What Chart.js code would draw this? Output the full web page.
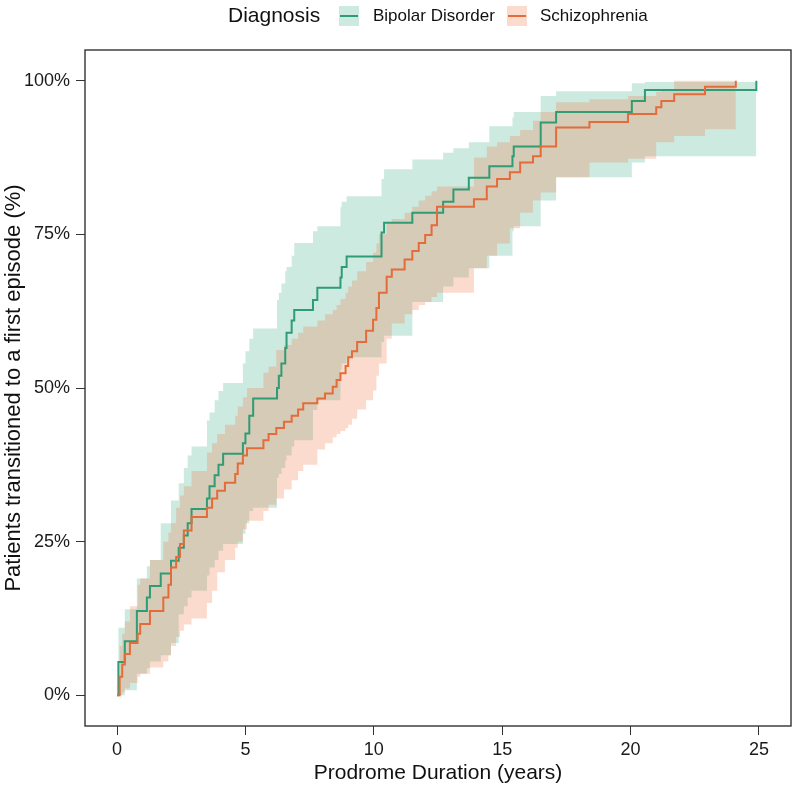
<!DOCTYPE html>
<html><head><meta charset="utf-8">
<script src="https://cdn.jsdelivr.net/npm/chart.js@4/dist/chart.umd.min.js"></script>
<style>html,body{margin:0;padding:0;background:#fff}canvas{display:block}</style>
</head><body>
<canvas id="c" width="796" height="788"></canvas>
<script>
// ---- data (years, % transitioned) ----
const bipolarTimes = [0,0.05,0.3,0.77,1.16,1.28,1.7,2.1,2.4,2.6,2.75,2.9,3.5,3.6,3.8,3.95,4.13,4.9,5.0,5.15,5.3,6.23,6.3,6.4,6.55,6.6,6.8,6.9,7.63,7.8,8.7,8.75,8.94,10.3,10.4,11.5,12.7,13.1,13.7,14.5,15.4,15.45,16.5,17.1,20.05,20.56,24.9];
const bipolarEst   = [0,5.4,8.8,13.7,15.9,17.8,19.8,21.9,24,26,28,30.3,32,34,35.8,37.5,39.3,41,42.6,45.5,48.3,50,52,54,56.5,59,61,62.7,64.3,66.3,68,69.7,71.4,75.3,76.9,78.5,80.3,82.3,84.2,86.1,87.7,89.3,93.2,94.9,96.7,98.5,100];
const bipolarUpper = [0,11,14,19,21,22,28,31.7,34.5,37,39,40.5,44.7,46,48,49.5,50.8,54,56,58,59.7,64.3,65.5,67,69,69.7,71.5,73.6,75.5,76.3,79.5,80.3,81.2,84,85.6,87.2,88.3,89,90,92.6,94,94.9,97.5,98.3,99.6,99.8,100];
const bipolarLower = [0,0,0.8,3.5,4.4,5.5,6.5,8.5,13.2,14.5,15.9,17,19.5,20.8,22,23.5,24.6,26.3,28,30,30.5,35.4,36,37,38.2,39,40.5,41.5,46.4,48,53,54,55,57.5,58.5,64,66.5,68,69.5,71.5,75.5,76.3,80.5,84.3,86.7,87.7,87.7];

const schizoTimes = [0,0.1,0.2,0.3,0.5,0.8,0.9,1.28,1.8,2.0,2.1,2.3,2.45,2.6,2.9,3.5,3.7,3.9,4.2,4.6,4.7,4.9,5.06,5.7,5.9,6.2,6.5,6.8,7.05,7.25,7.8,8.1,8.4,8.55,8.7,8.9,9.0,9.15,9.35,9.7,9.97,10.1,10.2,10.5,10.7,11.2,11.5,11.75,12.0,12.25,12.46,13.9,14.4,14.8,15.3,15.7,16.2,16.5,17.1,18.4,19.9,21.0,21.2,21.7,22.9,24.1];
const schizoEst   = [0,3,5,6.7,8.5,10,11.6,13.7,15.9,18,20.8,22.5,24.6,26.8,29,30.5,32,33.3,34.6,36,37.7,39,40.2,41.5,42.5,43.5,44.5,45.5,46.5,47.5,48.3,49.1,50.2,51.3,52.4,53.6,55,56,57.5,59.3,61.1,63,65.5,68.1,69.3,70.9,72.3,73.6,74.9,76.5,79.5,80.7,82.8,84,85.1,86.7,87.7,89.3,92.4,93.3,94.6,95.7,96.7,97.8,99,100];
const schizoUpper = [0,8,10,12,14.5,18,19,22,25,26.5,28,30.5,32.5,34,36.5,39.5,41,42.5,44,45.5,47,48.5,50,52.5,53.5,56.2,57,58,59,60,61,62,62.7,63.5,64.5,65.5,66.5,67.5,69,70.5,72,73.5,75,76.8,77.5,78.5,79.5,80.5,81.3,82,82.8,87.5,89.3,90,91,92,93.5,94.9,96.5,97,97.5,98.2,98.5,100,100,100];
const schizoLower = [0,0,0.5,1.1,2,3,3.5,4.5,5.5,6.5,8,9.5,10.5,11.5,12.5,15,17,20,22,24,25,27,28.4,30,31,32,33.5,35,36.5,37.5,40,41,42,42.5,43,43.5,44,45,46.5,48,49.6,52,54,58,60.5,62,62.7,63.5,64,64.8,65.5,69.5,71.5,73.5,76,78.5,80.5,81.8,84.3,86.7,87.3,90,90,91,92.1,92.1];

const seriesNames = ['Bipolar Disorder', 'Schizophrenia'];
const legendTitle = 'Diagnosis';
const xTicks = [0, 5, 10, 15, 20, 25];
const yTicks = [0, 25, 50, 75, 100];
const xTitle = 'Prodrome Duration (years)';
const yTitle = 'Patients transitioned to a first episode (%)';

// ---- styles ----
const FONT = "'Liberation Sans', Arial, sans-serif";
const greenLine = '#2f9c76';
const orangeLine = '#e46c3a';
const greenBand = 'rgba(27,158,119,0.22)';
const orangeBand = 'rgba(240,110,60,0.25)';

const pts = (xs, ys) => xs.map((x, i) => ({x: x, y: ys[i]}));

const bandDs = (label, xs, ys, color, fill, order) => ({
  label, data: pts(xs, ys), stepped: 'before', borderWidth: 0, pointRadius: 0,
  backgroundColor: color, borderColor: 'rgba(0,0,0,0)', fill, order
});

const framePlugin = {
  id: 'frame',
  afterDatasetsDraw(chart) {
    const {ctx, chartArea: a} = chart;
    ctx.save();
    ctx.strokeStyle = '#333';
    ctx.lineWidth = 1.4;
    ctx.strokeRect(a.left, a.top, a.right - a.left, a.bottom - a.top);
    ctx.restore();
  }
};

const legendPlugin = {
  id: 'customLegend',
  afterDraw(chart) {
    const ctx = chart.ctx;
    const cy = 16;
    ctx.save();
    ctx.fillStyle = '#111';
    ctx.textBaseline = 'middle';
    ctx.textAlign = 'left';
    ctx.font = '21px ' + FONT;
    ctx.fillText(legendTitle, 228, cy);
    const items = [
      {x: 339, tx: 373, band: greenBand, line: greenLine, name: seriesNames[0]},
      {x: 507, tx: 540, band: orangeBand, line: orangeLine, name: seriesNames[1]}
    ];
    ctx.font = '17px ' + FONT;
    items.forEach(it => {
      ctx.fillStyle = it.band;
      ctx.fillRect(it.x, cy - 10, 20, 20);
      ctx.strokeStyle = it.line;
      ctx.lineWidth = 2;
      ctx.beginPath();
      ctx.moveTo(it.x + 1, cy);
      ctx.lineTo(it.x + 19, cy);
      ctx.stroke();
      ctx.fillStyle = '#111';
      ctx.fillText(it.name, it.tx, cy);
    });
    ctx.restore();
  }
};

new Chart(document.getElementById('c'), {
  type: 'line',
  data: {
    datasets: [
      {label: seriesNames[0], data: pts(bipolarTimes, bipolarEst), stepped: 'before', borderColor: greenLine, borderWidth: 2, pointRadius: 0, fill: false, order: 2},
      {label: seriesNames[1], data: pts(schizoTimes, schizoEst), stepped: 'before', borderColor: orangeLine, borderWidth: 2, pointRadius: 0, fill: false, order: 1},
      bandDs('bipolar upper', bipolarTimes, bipolarUpper, greenBand, '+1', 4),
      bandDs('bipolar lower', bipolarTimes, bipolarLower, 'rgba(0,0,0,0)', false, 4),
      bandDs('schizo upper', schizoTimes, schizoUpper, orangeBand, '+1', 3),
      bandDs('schizo lower', schizoTimes, schizoLower, 'rgba(0,0,0,0)', false, 3)
    ]
  },
  options: {
    responsive: false,
    animation: false,
    devicePixelRatio: 1,
    layout: {padding: {left: 0, right: 5, top: 50, bottom: 0}},
    plugins: {legend: {display: false}, tooltip: {enabled: false}},
    scales: {
      x: {
        type: 'linear', min: -1.25, max: 26.25,
        afterBuildTicks: s => { s.ticks = xTicks.map(v => ({value: v})); },
        afterFit: s => { s.height = 62; },
        grid: {drawOnChartArea: false, drawTicks: true, tickLength: 9, color: '#333', lineWidth: 1},
        border: {display: false},
        ticks: {font: {family: FONT, size: 18}, color: '#1a1a1a', padding: 4, maxRotation: 0},
        title: {display: true, text: xTitle, font: {family: FONT, size: 21}, color: '#111', padding: {top: 0, bottom: 2}}
      },
      y: {
        type: 'linear', min: -5, max: 105,
        afterBuildTicks: s => { s.ticks = yTicks.map(v => ({value: v})); },
        afterFit: s => { s.width = 85; },
        grid: {drawOnChartArea: false, drawTicks: true, tickLength: 9, color: '#333', lineWidth: 1},
        border: {display: false},
        ticks: {font: {family: FONT, size: 18}, color: '#1a1a1a', padding: 6, callback: v => v + '%'},
        title: {display: true, text: yTitle, font: {family: FONT, size: 22}, color: '#111', padding: {top: 1, bottom: 0}}
      }
    }
  },
  plugins: [framePlugin, legendPlugin]
});
</script>
</body></html>
